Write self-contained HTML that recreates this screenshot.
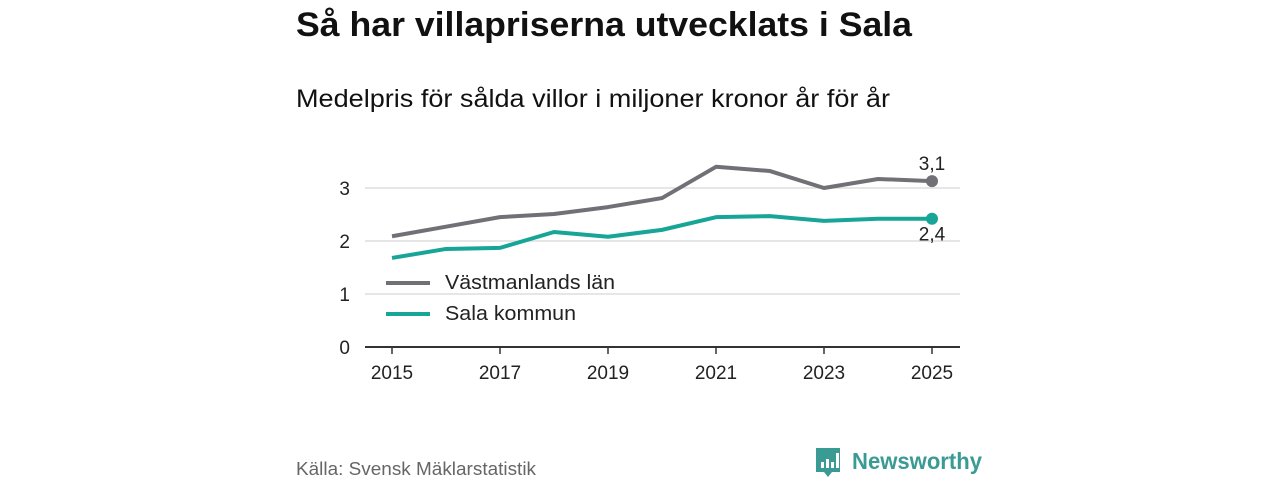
<!DOCTYPE html>
<html><head><meta charset="utf-8"><style>
body{margin:0;background:#fff;font-family:"Liberation Sans",sans-serif;}
svg{display:block}
</style></head><body>
<svg width="1280" height="480">
<text x="296" y="36" font-size="34" font-weight="bold" fill="#111" textLength="616" lengthAdjust="spacingAndGlyphs">Så har villapriserna utvecklats i Sala</text>
<text x="296" y="107" font-size="25" fill="#111" textLength="594" lengthAdjust="spacingAndGlyphs">Medelpris för sålda villor i miljoner kronor år för år</text>
<g id="grid"></g><g id="xaxis"></g><g id="lines"></g>
<text x="296" y="475" font-size="18" fill="#666" textLength="240" lengthAdjust="spacingAndGlyphs">Källa: Svensk Mäklarstatistik</text>
<g>
<path d="M816 448 h24 v24 h-8 l-4 5 l-4 -5 h-8 z" fill="#3a9a94"/>
<rect x="821" y="462" width="3" height="6" fill="#fff"/><rect x="826" y="459" width="3" height="9" fill="#fff"/><rect x="831" y="462" width="3" height="6" fill="#fff"/><rect x="836" y="453" width="3" height="15" fill="#fff"/>
<text x="852" y="469" font-size="23" font-weight="bold" fill="#3a9a94" textLength="130" lengthAdjust="spacingAndGlyphs">Newsworthy</text>
</g>
</svg>
<script>
const years=[2015,2016,2017,2018,2019,2020,2021,2022,2023,2024,2025];
const vastmanland=[2.09,2.27,2.45,2.51,2.64,2.81,3.40,3.32,3.00,3.17,3.13];
const sala=[1.68,1.85,1.87,2.17,2.08,2.21,2.45,2.47,2.38,2.42,2.42];
const yTicks=[0,1,2,3];
const xTicks=[2015,2017,2019,2021,2023,2025];
const NS='http://www.w3.org/2000/svg';
const X=v=>392+(v-2015)*54, Y=v=>347-v*53;
function mk(t,a,p){const e=document.createElementNS(NS,t);for(const k in a)e.setAttribute(k,a[k]);p.appendChild(e);return e;}
const g=document.getElementById('grid'),xa=document.getElementById('xaxis'),L=document.getElementById('lines');
yTicks.forEach(t=>{
 if(t>0){const l=mk('line',{x1:365,x2:960,y1:Y(t),y2:Y(t),stroke:'#ddd','stroke-width':1.5},g);
 
 }
 const tx=mk('text',{x:350,y:Y(t)+7,'font-size':19,fill:'#222','text-anchor':'end'},g);tx.textContent=t;
 
 
});
const ax=mk('line',{x1:365,x2:960,y1:347,y2:347,stroke:'#333','stroke-width':2},xa);


xTicks.forEach(t=>{
 mk('line',{x1:X(t),x2:X(t),y1:347,y2:354,stroke:'#333','stroke-width':1.5},xa);
 const tx=mk('text',{x:X(t),y:379,'font-size':19,fill:'#222','text-anchor':'middle'},xa);tx.textContent=t;
 
 
});
function series(vals,col,name,lab,dy,lw){
 const p=mk('polyline',{points:vals.map((v,i)=>X(years[i])+','+Y(v)).join(' '),fill:'none',stroke:col,'stroke-width':4,'stroke-linejoin':'round'},L);
 
 
 const n=vals.length-1;
 const c=mk('circle',{cx:X(years[n]),cy:Y(vals[n]),r:6,fill:col},L);
 
 
 const t=mk('text',{x:X(years[n]),y:Y(vals[n])+dy,'font-size':19,fill:'#222','text-anchor':'middle'},L);
 t.textContent=vals[n].toFixed(1).replace('.',',');
 
 
 mk('line',{x1:386,x2:430,y1:lab-6,y2:lab-6,stroke:col,'stroke-width':4},L);
 const lt=mk('text',{x:445,y:lab,'font-size':20,fill:'#222',textLength:lw,lengthAdjust:'spacingAndGlyphs'},L);lt.textContent=name==='vastmanland'?'Västmanlands län':'Sala kommun';
 
 
}
series(vastmanland,'#717077','vastmanland',289,-11,170);
series(sala,'#16a597','sala',320,22,131);
</script>
</body></html>
